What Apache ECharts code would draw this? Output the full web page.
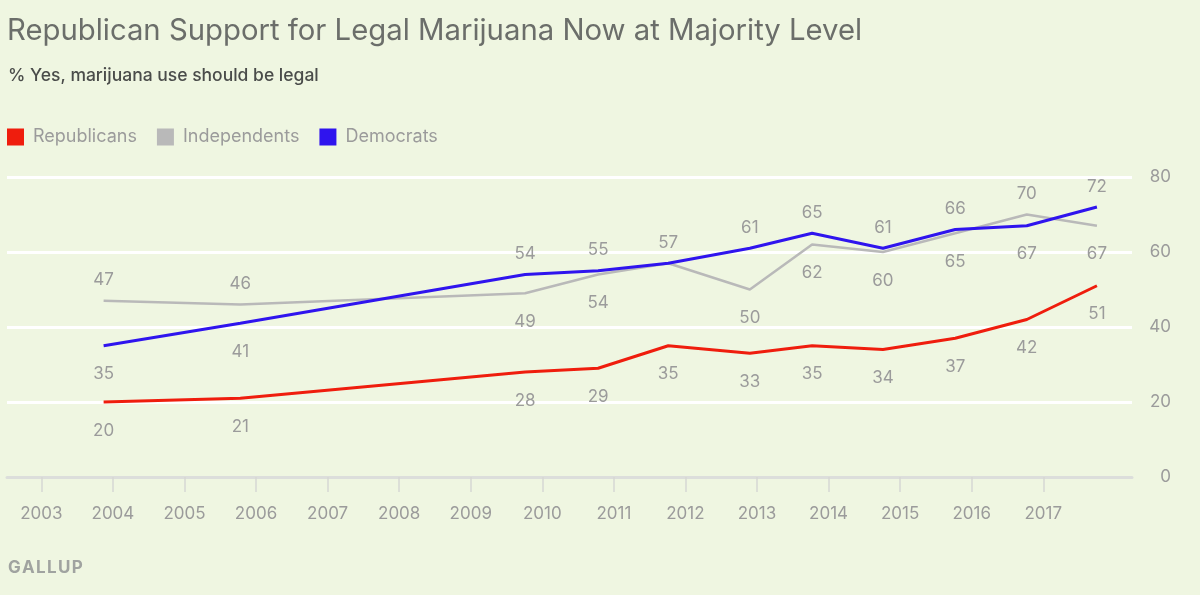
<!DOCTYPE html>
<html>
<head>
<meta charset="utf-8">
<script src="https://cdn.jsdelivr.net/npm/echarts@6/dist/echarts.min.js"></script>
<style>
  html, body { margin: 0; padding: 0; background: #eff6e1; }
  #chart { width: 1200px; height: 595px; }
</style>
</head>
<body>
<div id="chart"></div>
<script>
// poll dates as fractional years (Gallup, Oct/Nov fieldwork)
const anos = [2003.87, 2005.78, 2009.76, 2010.78, 2011.76, 2012.9, 2013.77, 2014.76, 2015.77, 2016.77, 2017.75];
const republicanos = [20, 21, 28, 29, 35, 33, 35, 34, 37, 42, 51];
const independentes = [47, 46, 49, 54, 57, 50, 62, 60, 65, 70, 67];
const democratas = [35, 41, 54, 55, 57, 61, 65, 61, 66, 67, 72];
const anosEixo = [2003, 2004, 2005, 2006, 2007, 2008, 2009, 2010, 2011, 2012, 2013, 2014, 2015, 2016, 2017];
const ticksY = [0, 20, 40, 60, 80];

// where each point label goes (t = above, b = below, - = none)
const ladoRep = "bbbbbbbbbbb";
const ladoInd = "ttbb-bbbbtb";
const ladoDem = "bbtttttttbt";

const cinza = "#9b9b9b";
const fonte = "Inter, Liberation Sans, Arial, sans-serif";

function montarSerie(nome, valores, lados, cor, largura) {
  return {
    name: nome,
    type: "line",
    symbol: "circle",
    symbolSize: 0,
    showSymbol: true,
    lineStyle: { color: cor, width: largura },
    itemStyle: { color: cor },
    emphasis: { disabled: true },
    data: valores.map((v, i) => ({
      value: [anos[i], v],
      label: {
        show: lados[i] !== "-",
        position: lados[i] === "t" ? "top" : "bottom",
        distance: lados[i] === "t" ? 12 : 20
      }
    })),
    label: {
      color: cinza,
      fontSize: 17,
      fontFamily: fonte,
      formatter: p => p.value[1]
    },
    z: nome === "Democrats" ? 3 : 2
  };
}

const chart = echarts.init(document.getElementById("chart"));
chart.setOption({
  backgroundColor: "#eff6e1",
  animation: false,
  textStyle: { fontFamily: fonte },
  title: [
    {
      text: "Republican Support for Legal Marijuana Now at Majority Level",
      left: 7, top: 17, padding: 0,
      textStyle: { color: "#6b6e6a", fontSize: 29.3, fontWeight: "normal", fontFamily: fonte }
    },
    {
      text: "% Yes, marijuana use should be legal",
      left: 8, top: 67, padding: 0,
      textStyle: { color: "#4a4c4a", fontSize: 17.5, fontWeight: 500, fontFamily: fonte }
    },
    {
      text: "G\u200aA\u200aL\u200aL\u200aU\u200aP",
      left: 8, top: 559, padding: 0,
      textStyle: { color: "#a0a3a0", fontSize: 17, fontWeight: "bold", fontFamily: fonte }
    }
  ],
  legend: {
    left: 7, top: 128, padding: 0,
    icon: "rect",
    itemWidth: 17, itemHeight: 17,
    itemGap: 20,
    textStyle: { color: cinza, fontSize: 18, fontFamily: fonte, padding: [0, 0, 0, 4] },
    data: ["Republicans", "Independents", "Democrats"]
  },
  grid: { left: 7, right: 68, top: 177, bottom: 118, containLabel: false },
  xAxis: {
    type: "value",
    min: 2002.52,
    max: 2018.24,
    splitLine: { show: false },
    axisLine: { show: true, lineStyle: { color: "#dcdedb", width: 3 } },
    axisTick: {
      show: true, length: 15, customValues: anosEixo,
      lineStyle: { color: "#d6d8d4", width: 1.5 }
    },
    axisLabel: {
      customValues: anosEixo, color: cinza, fontSize: 17, margin: 28, fontFamily: fonte,
      formatter: v => String(v)
    }
  },
  yAxis: {
    type: "value",
    position: "right",
    min: 0, max: 80, interval: 20,
    axisLine: { show: false },
    axisTick: { show: false },
    splitLine: { lineStyle: { color: "#ffffff", width: 3 } },
    axisLabel: {
      customValues: ticksY, color: cinza, fontSize: 17, align: "right", margin: 39, fontFamily: fonte
    }
  },
  series: [
    montarSerie("Independents", independentes, ladoInd, "#b9b9b9", 2.5),
    montarSerie("Republicans", republicanos, ladoRep, "#ef1d0d", 3),
    montarSerie("Democrats", democratas, ladoDem, "#2f14ee", 3)
  ]
});
</script>
</body>
</html>
